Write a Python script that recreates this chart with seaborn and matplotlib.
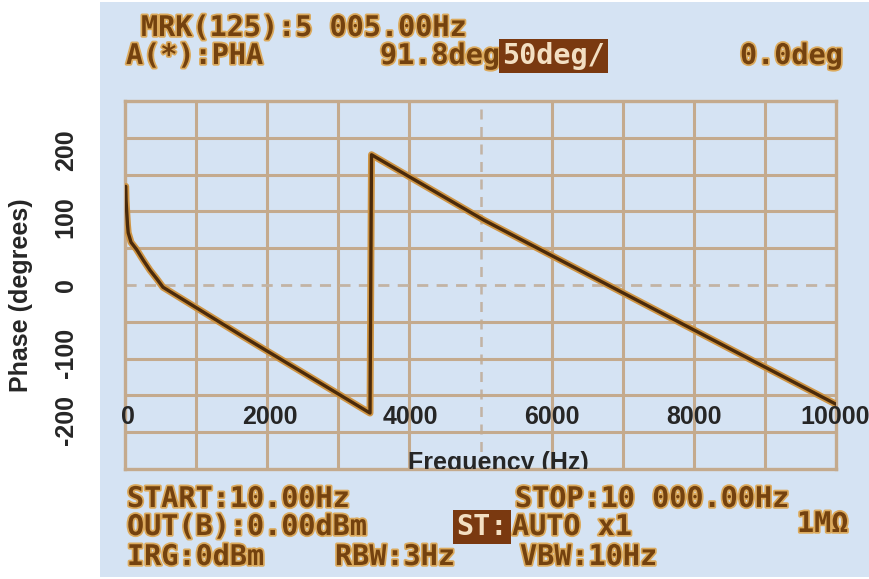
import matplotlib
matplotlib.use("Agg")
import matplotlib.pyplot as plt
import matplotlib.patheffects as pe
from matplotlib.patches import Rectangle
import numpy as np
import pandas as pd
import seaborn as sns

# ---------------- data ----------------
freq_hz = [10, 15, 20, 35, 45, 85, 165, 255, 352, 450, 534, 1055, 1660,
           3446, 3467, 5050, 10000]
phase_deg = [134, 115, 106, 82, 71, 58, 48, 34, 20, 8, -3, -34, -70,
             -174, 177, 88, -162]

x_ticks = [0, 2000, 4000, 6000, 8000, 10000]
y_ticks = [-200, -100, 0, 100, 200]
x_label = "Frequency (Hz)"
y_label = "Phase (degrees)"

grid_x = list(range(0, 10001, 1000))
grid_y = list(range(-250, 251, 50))

screen_texts = [
    ("MRK(125):5 005.00Hz", 141, 28),
    ("A(*):PHA", 126, 56),
    ("91.8deg", 380, 56),
    ("0.0deg", 740, 56),
    ("START:10.00Hz", 127, 499),
    ("STOP:10 000.00Hz", 515, 499),
    ("OUT(B):0.00dBm", 127, 527),
    ("AUTO x1", 512, 527),
    ("1MΩ", 797, 524),
    ("IRG:0dBm", 127, 557),
    ("RBW:3Hz", 335, 557),
    ("VBW:10Hz", 520, 557),
]
screen_boxed = [
    ("50deg/", 502, 56),
    ("ST:", 456, 527),
]

# ---------------- style ----------------
sns.set_style("white")
plt.rcParams["font.family"] = ["Liberation Sans", "DejaVu Sans"]

W, H = 869, 579
screen_bg = "#d5e3f3"
grid_col = "#c4aa8d"
dash_col = "#c2b3a4"
lcd_col = "#74420f"
lcd_glow = "#dcaa5c"
trace_col = "#4a2a0b"
trace_glow = "#cf9544"

fig = plt.figure(figsize=(W / 100, H / 100), dpi=100)
fig.patch.set_facecolor("white")

# background "photo" in pixel coordinates
ax_bg = fig.add_axes([0, 0, 1, 1], zorder=0)
ax_bg.set_xlim(0, W)
ax_bg.set_ylim(H, 0)
ax_bg.axis("off")
ax_bg.add_patch(Rectangle((100, 2), W - 100, 575, color=screen_bg, lw=0))

lcd_font = dict(family="DejaVu Sans Mono", weight="bold", fontsize=20.5)
for s, x, y in screen_texts:
    ax_bg.text(x, y, s, color=lcd_col, ha="left", va="center", **lcd_font,
               path_effects=[pe.withStroke(linewidth=2.5, foreground=lcd_glow)])
for s, x, y in screen_boxed:
    ax_bg.text(x, y, s, color="#f3dfc2", ha="left", va="center", **lcd_font,
               bbox=dict(boxstyle="square,pad=0.12", fc="#7a3910", ec="none"))

# grid / trace axes (screen coordinates)
gx0, gx1, gy0, gy1 = 125, 836, 101, 469
rect = [gx0 / W, (H - gy1) / H, (gx1 - gx0) / W, (gy1 - gy0) / H]
ax = fig.add_axes(rect, zorder=1)
ax.set_facecolor("none")
ax.set_xlim(0, 10000)
ax.set_ylim(-250, 250)
for v in grid_x[1:-1]:
    if v == 5000:
        ax.axvline(v, color=dash_col, lw=1.8, ls=(0, (4, 3)), zorder=1)
    else:
        ax.axvline(v, color=grid_col, lw=2.2, zorder=1)
for v in grid_y[1:-1]:
    if v == 0:
        ax.axhline(v, color=dash_col, lw=2.0, ls=(0, (4, 3)), zorder=1)
    else:
        ax.axhline(v, color=grid_col, lw=2.2, zorder=1)
for sp in ax.spines.values():
    sp.set_color(grid_col)
    sp.set_linewidth(2.4)
ax.set_xticks([])
ax.set_yticks([])

df = pd.DataFrame({"freq": freq_hz, "phase": phase_deg})
sns.lineplot(data=df, x="freq", y="phase", ax=ax, color=trace_col, lw=2.4,
             estimator=None, sort=False, zorder=3)
ax.lines[-1].set_path_effects([pe.Stroke(linewidth=5.0, foreground=trace_glow),
                               pe.Normal()])
ax.set_xlabel("")
ax.set_ylabel("")

# overlay label axes
axl = fig.add_axes(rect, zorder=2)
axl.set_facecolor("none")
axl.set_xlim(-42, 10014)
axl.set_ylim(-272.6, 272.6)
for sp in axl.spines.values():
    sp.set_visible(False)
axl.set_xticks(x_ticks)
axl.set_xticklabels([str(v) for v in x_ticks], fontsize=18, fontweight="bold")
axl.set_yticks(y_ticks)
axl.set_yticklabels([str(v) for v in y_ticks], fontsize=18, fontweight="bold")
axl.tick_params(axis="x", length=0, pad=-46)
axl.tick_params(axis="y", length=0, pad=34, labelrotation=90)
for t in axl.get_yticklabels():
    t.set_va("center")

axl.set_xlabel(x_label, fontsize=18, fontweight="bold")
axl.xaxis.set_label_coords(0.525, 0.05)
axl.xaxis.label.set_clip_on(True)
axl.xaxis.label.set_clip_box(axl.bbox)
axl.set_ylabel(y_label, fontsize=18, fontweight="bold")
axl.yaxis.set_label_coords(-0.1294, 0.473)

fig.savefig("out.png", dpi=100)
